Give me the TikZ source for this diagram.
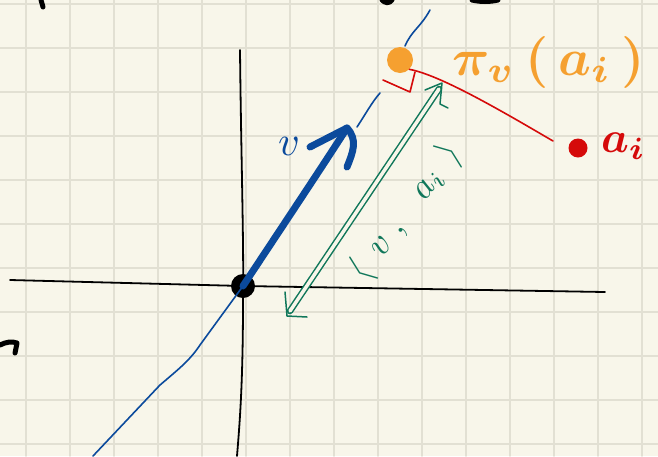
\documentclass[tikz,border=0pt]{standalone}
\usepackage{tikz}
\usepackage{graphicx}
\usetikzlibrary{arrows.meta}
\definecolor{paper}{HTML}{F8F6EA}
\definecolor{gridc}{HTML}{E2E0D3}
\definecolor{vblue}{HTML}{0B4A9C}
\definecolor{dgreen}{HTML}{10775A}
\definecolor{orng}{HTML}{F5A030}
\definecolor{rred}{HTML}{D50A0A}
\tikzset{
  axisline/.style={black, line width=1.8},
  inkblack/.style={black, line width=5},
  thinblue/.style={vblue, line width=1.6},
  thickblue/.style={vblue, line width=7},
  greenline/.style={dgreen, line width=1.5},
  greendouble/.style={dgreen, line width=1.5, double=paper, double distance=3.5},
  redline/.style={rred, line width=1.6},
  dotnode/.style={circle, inner sep=0pt, minimum size=#1},
  lbl/.style={inner sep=0pt}
}
\begin{document}
\begin{tikzpicture}[x=1pt,y=-1pt, line cap=round, line join=round]
\fill[paper] (0,0) rectangle (658,456);
\useasboundingbox (0,0) rectangle (658,456);
% grid
\foreach \x in {26,70,...,642} \draw[gridc, line width=1.6] (\x,0) -- (\x,456);
\foreach \y in {4,48,...,444} \draw[gridc, line width=1.6] (0,\y) -- (658,\y);

% cut-off fragments
\draw[inkblack] (41,0) -- (43,7);
\draw[inkblack] (382,0) .. controls (385,3) and (389,4) .. (392,0);
\draw[inkblack] (472,0) .. controls (480,2) and (490,2) .. (498,0);
\draw[inkblack] (0,345) .. controls (6,342) and (12,341) .. (17,343) -- (15,353);

% nodes
\node[dotnode=24, fill=black] (O) at (243,286) {};
\coordinate (xl) at (10,280);
\coordinate (xr) at (605,292);
\coordinate (yt) at (240,50);
\coordinate (yb) at (237,456);

% axes
\draw[axisline] (xl) -- (O.center) -- (xr);
\draw[axisline] (yt) .. controls (241,150) and (244,250) .. (243,300) .. controls (243,380) and (240,420) .. (yb);

% thin blue line through origin
\coordinate (bb) at (93,456);
\coordinate (bm) at (357,127);
\coordinate (bm2) at (380,93);
\coordinate (bt) at (405,46);
\coordinate (bt2) at (430,10);
\draw[thinblue] (bb) -- (160,385) .. controls (180,368) and (190,360) .. (200,345) -- (O.center);
\draw[thinblue] (bm) .. controls (365,115) and (372,102) .. (bm2);
\draw[thinblue] (bt) .. controls (412,30) and (420,28) .. (bt2);

% thick blue arrow v
\coordinate (vtip) at (347,128);
\draw[thickblue] (O.center) .. controls (280,230) and (320,170) .. (vtip);
\draw[vblue, line width=3.5] (251,272) .. controls (292,213) and (322,168) .. (342,136);
\draw[thickblue] (310,147) -- (vtip) .. controls (358,140) and (353,152) .. (347,167);
\node[lbl, text=vblue] (vlab) at (289,146) {\scalebox{4.2}{$v$}};

% orange projection point
\node[dotnode=26, fill=orng] (P) at (400,60) {};
\draw[orng, line width=1.5] (P.center) circle (10);
\node[lbl, text=orng, anchor=west] (plab) at (452,62) {\scalebox{5.2}{\boldmath$\pi_{v}\,(\,a_{i}\,)$}};

% red point a_i
\node[dotnode=19, fill=rred] (A) at (578,148) {};
\node[lbl, text=rred, anchor=west] (alab) at (601,146) {\scalebox{4.4}{\boldmath$a_{i}$}};
\draw[redline] (P.south east) .. controls (440,75) and (500,110) .. (553,141);
\draw[redline] (383,80) -- (410,92) -- (415,72);

% green double arrow <v,a_i>
\coordinate (gt) at (442,83);
\coordinate (gb) at (287,316);
\draw[greendouble] (439,89) -- (290,311);
\draw[greenline] (425,90) -- (gt) -- (440,104) -- (448,108);
\draw[greenline] (285,292) -- (gb) -- (307,317);
\node[lbl, text=dgreen, rotate=53] (glab) at (406,212) {\scalebox{3.6}{$\langle\;\, v\;,\;\;\, a_{i}\;\,\rangle$}};
\end{tikzpicture}
\end{document}
